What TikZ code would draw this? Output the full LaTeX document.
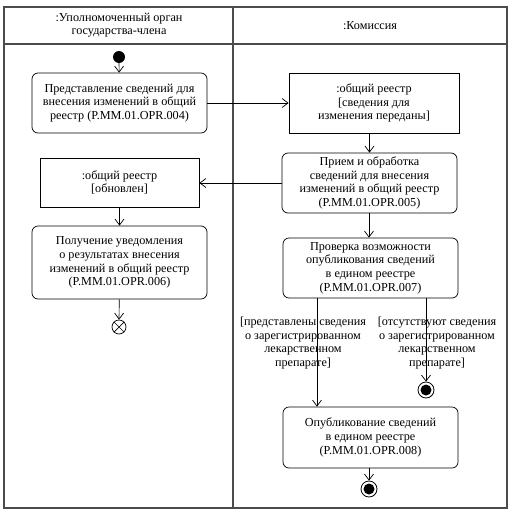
\documentclass[tikz,border=0pt]{standalone}
\usepackage{fontspec}
\setmainfont{Liberation Serif}
\usetikzlibrary{arrows.meta}
\begin{document}
\begin{tikzpicture}[x=1pt,y=-1pt,
  every node/.style={font=\rmfamily\fontsize{12.2}{13.6}\selectfont, inner sep=0pt},
  act/.style={draw, rounded corners=6pt, line width=0.7pt, align=center, minimum width=175pt},
  obj/.style={draw, line width=0.7pt, align=center},
  flow/.style={line width=0.7pt, -{Straight Barb[length=6pt,width=9pt]}},
  lane/.style={draw=black!70, line width=1.1pt},
  guard/.style={align=center, fill=none}]
\useasboundingbox (0,0) rectangle (516,514);
\draw[lane] (4,7) rectangle (507,508);
\draw[lane] (4,44) -- (507,44);
\draw[lane] (233,7) -- (233,508);
\node (h1) [align=center] at (119,25) {:Уполномоченный орган\\государства-члена};
\node (h2) at (370,26) {:Комиссия};

\node (start) [circle, fill=black, minimum size=12pt] at (119,57) {};
\node (b1) [act, minimum height=60pt] at (119.5,103) {Представление сведений для\\внесения изменений в общий\\реестр (P.MM.01.OPR.004)};
\node (o1) [obj, minimum width=170pt, minimum height=60pt] at (374,103) {:общий реестр\\{[}сведения для\\изменения переданы{]}};
\node (b2) [act, minimum height=60pt] at (369.5,183) {Прием и обработка\\сведений для внесения\\изменений в общий реестр\\(P.MM.01.OPR.005)};
\node (o2) [obj, minimum width=159pt, minimum height=49pt] at (119.5,182.5) {:общий реестр\\{[}обновлен{]}};
\node (b3) [act, minimum height=73pt] at (119.5,262.5) {Получение уведомления\\о результатах внесения\\изменений в общий реестр\\(P.MM.01.OPR.006)};
\node (b4) [act, minimum height=60pt] at (370.5,268) {Проверка возможности\\опубликования сведений\\в едином реестре\\(P.MM.01.OPR.007)};
\node (b5) [act, minimum height=61pt] at (370.5,437.5) {Опубликование сведений\\в едином реестре\\(P.MM.01.OPR.008)};

\node (ff) [circle, draw, line width=0.7pt, minimum size=14pt] at (119,327) {};
\draw[line width=0.7pt] (ff.45) -- (ff.225) (ff.135) -- (ff.315);

\node (f1) [circle, draw, line width=0.8pt, minimum size=16pt] at (426,390) {};
\node (f1i) [circle, fill=black, minimum size=11pt] at (f1.center) {};
\node (f2) [circle, draw, line width=0.8pt, minimum size=16pt] at (369,489) {};
\node (f2i) [circle, fill=black, minimum size=11pt] at (f2.center) {};

\coordinate (l1) at (317,298);
\coordinate (l2) at (317,407);
\coordinate (r1) at (426,298);

\draw[flow] (start) -- (b1);
\draw[flow] (b1) -- (o1);
\draw[flow] (o1.south -| b2.north) -- (b2.north);
\draw[flow] (b2.west) -- (o2.east |- b2.west);
\draw[flow] (o2) -- (b3);
\draw[flow] (b2.south -| 369,0) -- (b4.north -| 369,0);
\draw[flow] (b3) -- (ff);
\draw[flow] (b4.south -| l1) -- (b5.north -| l2);
\draw[flow] (b4.south -| r1) -- (f1);
\draw[flow] (b5.south -| f2) -- (f2);

\node (g1) [guard] at (303,343) {{[}представлены сведения\\о зарегистрированном\\лекарственном\\препарате{]}};
\node (g2) [guard] at (437,343) {{[}отсутствуют сведения\\о зарегистрированном\\лекарственном\\препарате{]}};
\end{tikzpicture}
\end{document}
